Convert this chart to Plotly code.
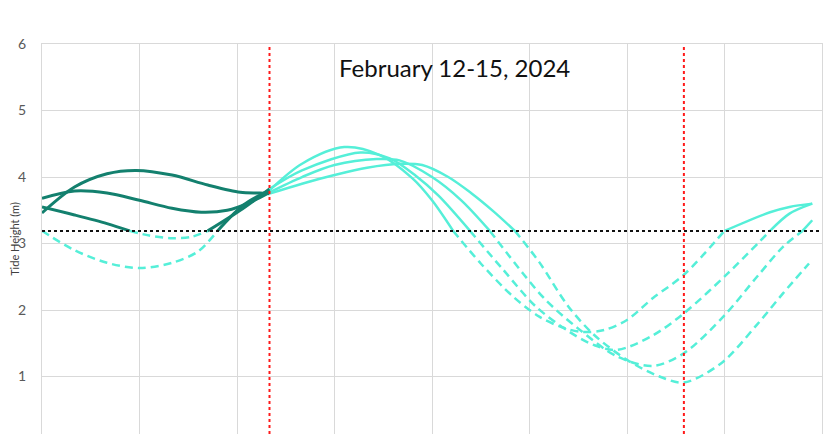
import plotly.graph_objects as go

# tide heights (m), hour of day -> height
THRESH = 3.19
RED_LINES = [7.0, 19.75]

feb12_hours = [0, 1, 2, 3, 4, 4.8, 5.4, 6.2, 7, 8, 9.3, 10.4, 11.4, 12, 12.65, 13.5, 14.5, 15.3, 16,
               16.6, 17.3, 18, 18.8, 19.75, 21.0, 22.4, 23, 23.7]
feb12_height = [3.19, 2.9, 2.71, 2.63, 2.71, 2.88, 3.19, 3.58, 3.8, 4.2, 4.45, 4.33, 3.98, 3.65, 3.19, 2.7,
                2.2, 1.9, 1.74, 1.67, 1.70, 1.85, 2.18, 2.53, 3.19, 3.47, 3.55, 3.6]

feb13_hours = [0, 1, 2, 2.7, 3.3, 4, 4.6, 5.1, 6.1, 7, 8, 9.8, 10.7, 11.5, 12.2, 13.17, 14.2, 15.2,
               16.2, 17, 17.7, 18.8, 19.75, 21.1, 22.4, 23, 23.7]
feb13_height = [3.55, 3.43, 3.3, 3.19, 3.12, 3.08, 3.1, 3.19, 3.5, 3.82, 4.1, 4.37, 4.28, 4.02, 3.72,
                3.19, 2.6, 2.05, 1.68, 1.47, 1.40, 1.62, 1.95, 2.55, 3.19, 3.45, 3.6]

feb14_hours = [0, 1, 2, 3, 4, 4.9, 5.7, 6.4, 7, 8, 9, 10.3, 11, 12, 12.9, 13.78, 14.8, 15.5, 16.5, 17.7,
               18.8, 19.75, 21, 22, 22.8, 23.4, 23.7]
feb14_height = [3.68, 3.79, 3.76, 3.65, 3.53, 3.47, 3.5, 3.62, 3.77, 4.0, 4.18, 4.27, 4.25, 4.0, 3.65,
                3.19, 2.55, 2.15, 1.72, 1.3, 1.16, 1.35, 1.92, 2.5, 2.95, 3.19, 3.35]

feb15_hours = [0, 1, 2, 2.9, 4, 5.1, 6.1, 6.7, 7, 8, 9, 10, 11, 11.7, 12.5, 13.2, 13.9, 14.55, 15.3, 16.2,
               17, 18, 19, 19.75, 20.9, 22, 22.8, 23.6]
feb15_height = [3.46, 3.85, 4.05, 4.1, 4.03, 3.88, 3.77, 3.76, 3.75, 3.9, 4.03, 4.14, 4.2, 4.18, 4.0, 3.76,
                3.48, 3.19, 2.72, 2.05, 1.62, 1.25, 1.0, 0.91, 1.2, 1.78, 2.25, 2.7]

days = [(feb12_hours, feb12_height), (feb13_hours, feb13_height),
        (feb14_hours, feb14_height), (feb15_hours, feb15_height)]

DARK = '#13806e'
AQUA = '#55efd8'
styles = {
    'early': dict(color=DARK, width=3),
    'late': dict(color=AQUA, width=2.5),
    'below': dict(color=AQUA, width=2.5, dash='8px,5px'),
}


def segment_key(h0, h1, y0, y1):
    if max(y0, y1) <= THRESH + 1e-6:
        return 'below'
    return 'early' if h1 <= RED_LINES[0] + 1e-6 else 'late'


fig = go.Figure()

for hours, height in days:
    seg_x, seg_y, key = [hours[0]], [height[0]], None
    for i in range(len(hours) - 1):
        k = segment_key(hours[i], hours[i + 1], height[i], height[i + 1])
        if key is not None and k != key:
            fig.add_trace(go.Scatter(x=seg_x, y=seg_y, mode='lines',
                                     line=dict(shape='spline', smoothing=0.9, **styles[key]),
                                     showlegend=False, hoverinfo='skip'))
            seg_x, seg_y = [hours[i]], [height[i]]
        key = k
        seg_x.append(hours[i + 1])
        seg_y.append(height[i + 1])
    fig.add_trace(go.Scatter(x=seg_x, y=seg_y, mode='lines',
                             line=dict(shape='spline', smoothing=0.9, **styles[key]),
                             showlegend=False, hoverinfo='skip'))

# seuil + lignes rouges
fig.add_hline(y=THRESH, line=dict(color='#111111', width=2, dash='dot'))
for xr in RED_LINES:
    fig.add_vline(x=xr, line=dict(color='#ff1a1a', width=2, dash='dot'))

fig.add_annotation(text='February 12-15, 2024', x=0.529, y=0.941, xref='paper', yref='paper',
                   yanchor='middle', showarrow=False, font=dict(family='Lato', size=24, color='#111111'))

# la page a une marge de 8px : on compense
fig.update_layout(
    width=824, height=426,
    margin=dict(l=34, r=10, t=36, b=0),
    paper_bgcolor='white', plot_bgcolor='white',
    font=dict(family='Lato', color='#595959'),
    xaxis=dict(range=[0, 24], dtick=3, tick0=0, showticklabels=False, showgrid=True,
               gridcolor='#d9d9d9', gridwidth=1, zeroline=False, showline=True, linecolor='#d9d9d9',
               mirror=True, ticks='', automargin=False),
    yaxis=dict(range=[0.135, 6.001], dtick=1, tick0=0, showgrid=True, gridcolor='#d9d9d9',
               gridwidth=1, zeroline=False, showline=True, linecolor='#d9d9d9', mirror=True,
               tickfont=dict(size=14, color='#595959'), ticklabelstandoff=12, automargin=False,
               title=dict(text='Tide Height (m)', font=dict(size=11, color='#404040'), standoff=0)),
)

fig.write_html("out.html")
